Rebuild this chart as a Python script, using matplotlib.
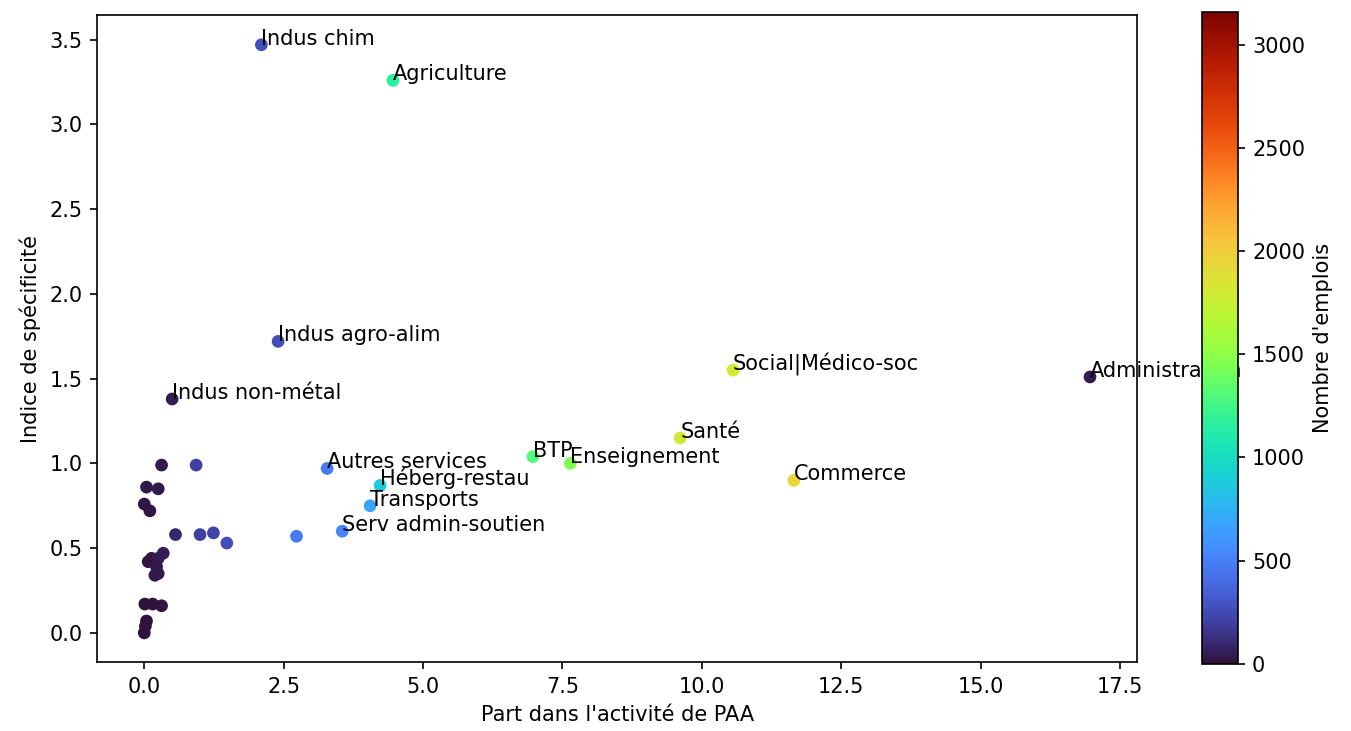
import matplotlib
matplotlib.use("Agg")
import matplotlib.pyplot as plt
import numpy as np

labels = ["Indus chim", "Agriculture", "Indus agro-alim", "Indus non-métal",
          "Social|Médico-soc", "Administration", "Santé", "BTP", "Enseignement",
          "Commerce", "Autres services", "Héberg-restau", "Transports",
          "Serv admin-soutien"]
lab_x = [2.10, 4.46, 2.40, 0.50, 10.56, 16.96, 9.61, 6.97, 7.64, 11.65,
         3.28, 4.23, 4.05, 3.55]
lab_y = [3.47, 3.26, 1.72, 1.38, 1.55, 1.51, 1.15, 1.04, 1.00, 0.90,
         0.97, 0.87, 0.75, 0.60]
lab_n = [260, 1150, 260, 60, 1800, 40, 1800, 1300, 1450, 1950,
         480, 880, 680, 520]

oth_x = [2.73, 0.31, 0.93, 0.04, 0.25, 0.00, 0.10, 0.56, 1.00, 1.24, 1.48,
         0.34, 0.13, 0.25, 0.07, 0.22, 0.25, 0.19,
         0.01, 0.15, 0.31, 0.04, 0.02, 0.00]
oth_y = [0.57, 0.99, 0.99, 0.86, 0.85, 0.76, 0.72, 0.58, 0.58, 0.59, 0.53,
         0.47, 0.44, 0.44, 0.42, 0.39, 0.35, 0.34,
         0.17, 0.17, 0.16, 0.07, 0.04, 0.00]
oth_n = [480, 40, 200, 30, 30, 20, 20, 90, 200, 220, 260,
         50, 30, 40, 20, 30, 40, 30,
         10, 10, 20, 5, 5, 5]

xs = np.array(lab_x + oth_x)
ys = np.array(lab_y + oth_y)
ns = np.array(lab_n + oth_n)

fig = plt.figure(figsize=(1351/150, 731/150), dpi=150)
ax = fig.add_axes([0.0718, 0.094, 0.770, 0.885])
cax = fig.add_axes([0.890, 0.092, 0.026, 0.892])

sc = ax.scatter(xs, ys, c=ns, cmap="turbo", vmin=0, vmax=3160, s=26)
for t, x, y in zip(labels, lab_x, lab_y):
    ax.text(x, y, t, fontsize=10)

ax.set_xlabel("Part dans l'activité de PAA", fontsize=10)
ax.set_ylabel("Indice de spécificité", fontsize=10)
ax.set_xticks(np.arange(0, 17.6, 2.5))
cb = fig.colorbar(sc, cax=cax)
cb.set_label("Nombre d'emplois", fontsize=10)
cb.set_ticks([0, 500, 1000, 1500, 2000, 2500, 3000])

fig.savefig("out.png", dpi=150)
